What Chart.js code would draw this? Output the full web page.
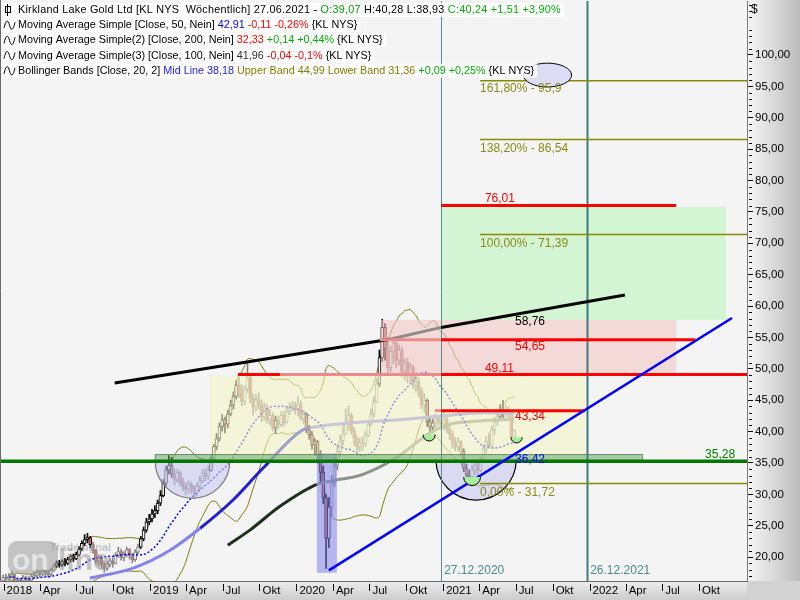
<!DOCTYPE html>
<html>
<head>
<meta charset="utf-8">
<title>Kirkland Lake Gold - Wöchentlich</title>
<script src="https://cdn.jsdelivr.net/npm/chart.js@4.4.1/dist/chart.umd.min.js"></script>
<style>
  html, body { margin: 0; padding: 0; background: #f4f4f4; }
  canvas { display: block; }
</style>
</head>
<body>
<canvas id="chartKL" width="800" height="600"></canvas>
<script>
// Wochenkerzen KL NYS, erste Kerze = Woche ab 31.12.2017
const firstWeek = '2017-12-31';

const weekOpen = [
  16.2, 16.8, 16.5, 16.9, 17.2, 16.4, 15.9, 16.2, 16.8, 16.5, 16.3, 16.9, 17.1,
  17.6, 17.3, 17.8, 17.5, 17.2, 17.9, 18.6, 19.1, 18.8, 19.3, 19.0, 19.6, 20.1,
  19.7, 20.4, 21.3, 22.2, 22.8, 23.1, 22.0, 21.0, 19.3, 19.8, 18.8, 18.2, 18.9,
  19.4, 19.0, 20.3, 20.9, 19.9, 20.4, 21.2, 20.2, 19.6, 20.8, 21.6, 22.9, 24.3,
  25.6, 26.1, 26.9, 27.4, 28.6, 29.8, 31.8, 33.9, 34.6, 33.2, 32.4, 33.5, 32.0,
  31.2, 30.8, 31.6, 31.0, 30.2, 31.3, 32.2, 33.4, 32.9, 33.8, 35.7, 37.6, 38.9,
  40.8, 41.9, 41.2, 42.8, 44.2, 45.6, 47.4, 46.1, 44.8, 46.8, 48.6, 45.3, 43.9,
  45.1, 44.3, 42.3, 43.8, 41.9, 42.6, 40.6, 41.8, 41.1, 42.6, 41.5, 43.2, 43.8,
  44.1, 43.5, 44.3, 42.1, 42.8, 40.3, 39.5, 37.9, 38.4, 36.2, 33.5, 29.5, 23.0,
  28.0, 31.8, 34.6, 36.8, 38.5, 39.6, 41.2, 42.6, 40.1, 38.9, 37.6, 38.2, 38.0,
  39.4, 41.2, 42.8, 44.7, 47.6, 51.8, 56.6, 53.3, 50.2, 52.8, 54.1, 51.4, 53.0,
  49.6, 51.0, 49.0, 50.2, 47.3, 47.9, 46.6, 44.2, 45.0, 41.6, 40.7, 41.4, 42.2,
  41.5, 41.2, 42.0, 40.4, 39.6, 38.2, 37.6, 38.4, 36.9, 34.2, 33.1, 32.8, 33.9,
  34.7, 33.8, 35.6, 37.2, 38.5, 37.8, 40.3, 41.6, 42.4, 43.4, 42.9, 43.6, 42.7,
  39.07
];
const weekHigh = [
  17.2, 17.3, 17.4, 17.8, 17.3, 16.6, 16.6, 17.1, 17.0, 16.9, 17.2, 17.6, 18.0,
  17.9, 18.1, 18.0, 17.8, 18.3, 18.9, 19.4, 19.5, 19.6, 19.8, 20.0, 20.4, 20.5,
  20.8, 21.7, 22.6, 23.6, 23.8, 23.3, 22.4, 21.2, 20.3, 20.0, 19.2, 19.3, 19.8,
  19.9, 20.7, 21.6, 21.3, 20.9, 21.6, 21.4, 20.6, 21.2, 22.1, 23.3, 24.8, 26.2,
  26.8, 27.6, 28.2, 29.1, 30.6, 32.4, 34.5, 36.2, 35.9, 34.1, 34.0, 33.8, 32.6,
  31.9, 32.2, 32.0, 31.4, 31.8, 32.9, 34.0, 34.1, 34.5, 36.2, 38.0, 39.7, 41.4,
  42.7, 42.3, 43.4, 45.0, 46.3, 48.1, 48.6, 47.5, 47.3, 51.2, 49.2, 46.0, 45.9,
  46.2, 45.0, 44.6, 44.3, 43.5, 43.0, 42.5, 42.4, 43.2, 43.3, 43.9, 44.6, 44.8,
  44.7, 45.6, 44.9, 43.4, 43.0, 41.0, 40.0, 38.9, 38.6, 37.0, 34.5, 30.0, 29.5,
  33.0, 35.8, 37.9, 39.4, 41.2, 43.6, 44.1, 43.0, 40.6, 39.3, 39.0, 39.2, 40.0,
  41.8, 43.6, 45.6, 48.4, 53.0, 57.9, 57.2, 54.4, 53.6, 55.0, 54.6, 53.8, 53.5,
  51.6, 51.7, 50.9, 50.6, 48.9, 48.6, 47.0, 46.1, 45.2, 42.3, 42.0, 42.8, 42.6,
  42.2, 43.3, 42.5, 41.0, 40.1, 39.0, 39.0, 38.6, 37.3, 34.8, 33.9, 34.6, 35.3,
  35.2, 36.0, 37.8, 39.2, 39.8, 40.9, 42.3, 43.2, 44.3, 45.0, 44.1, 44.0, 42.9,
  40.28
];
const weekLow = [
  16.0, 16.2, 16.3, 16.7, 16.0, 15.3, 15.4, 15.9, 16.1, 15.8, 16.0, 16.6, 16.9,
  16.8, 17.0, 17.0, 16.8, 17.0, 17.8, 18.3, 18.4, 18.5, 18.6, 18.8, 19.2, 19.3,
  19.6, 20.2, 21.0, 21.8, 22.3, 21.5, 20.6, 18.9, 18.6, 18.2, 17.6, 17.9, 18.5,
  18.4, 18.9, 20.0, 19.5, 19.4, 20.1, 19.7, 19.1, 19.3, 20.5, 21.4, 22.6, 24.0,
  25.2, 25.6, 26.3, 26.9, 28.2, 29.6, 31.4, 33.2, 32.7, 31.5, 31.9, 31.4, 30.6,
  29.9, 30.2, 30.1, 29.3, 29.7, 30.8, 31.8, 32.1, 32.4, 33.7, 35.3, 37.1, 38.5,
  40.1, 39.8, 40.6, 42.5, 43.6, 45.2, 45.4, 44.1, 44.3, 46.2, 44.6, 42.6, 43.2,
  43.5, 41.6, 41.8, 41.3, 41.1, 40.1, 39.7, 40.4, 40.8, 40.9, 41.3, 42.7, 43.3,
  42.8, 42.5, 41.8, 41.2, 39.8, 38.8, 37.2, 36.2, 35.0, 31.8, 28.5, 18.2, 21.5,
  26.5, 31.2, 33.9, 36.0, 37.8, 39.5, 40.2, 39.6, 37.8, 36.6, 36.8, 37.0, 37.6,
  39.2, 40.9, 42.3, 44.6, 47.2, 51.2, 51.4, 48.9, 49.5, 50.8, 50.1, 50.6, 48.8,
  48.2, 47.8, 47.9, 46.8, 46.3, 45.5, 43.6, 43.1, 40.8, 39.9, 39.8, 40.6, 40.9,
  40.4, 40.3, 39.8, 38.7, 37.3, 36.9, 36.9, 36.2, 33.6, 32.2, 32.0, 32.5, 33.1,
  33.0, 33.6, 35.4, 36.6, 37.4, 37.5, 39.6, 41.0, 41.8, 42.2, 42.3, 42.0, 38.6,
  38.93
];
const weekClose = [
  16.8, 16.5, 16.9, 17.2, 16.4, 15.9, 16.2, 16.8, 16.5, 16.3, 16.9, 17.1, 17.6,
  17.3, 17.8, 17.5, 17.2, 17.9, 18.6, 19.1, 18.8, 19.3, 19.0, 19.6, 20.1, 19.7,
  20.4, 21.3, 22.2, 22.8, 23.1, 22.0, 21.0, 19.3, 19.8, 18.8, 18.2, 18.9, 19.4,
  19.0, 20.3, 20.9, 19.9, 20.4, 21.2, 20.2, 19.6, 20.8, 21.6, 22.9, 24.3, 25.6,
  26.1, 26.9, 27.4, 28.6, 29.8, 31.8, 33.9, 34.6, 33.2, 32.4, 33.5, 32.0, 31.2,
  30.8, 31.6, 31.0, 30.2, 31.3, 32.2, 33.4, 32.9, 33.8, 35.7, 37.6, 38.9, 40.8,
  41.9, 41.2, 42.8, 44.2, 45.6, 47.4, 46.1, 44.8, 46.8, 48.6, 45.3, 43.9, 45.1,
  44.3, 42.3, 43.8, 41.9, 42.6, 40.6, 41.8, 41.1, 42.6, 41.5, 43.2, 43.8, 44.1,
  43.5, 44.3, 42.1, 42.8, 40.3, 39.5, 37.9, 38.4, 36.2, 33.5, 29.5, 23.0, 28.0,
  31.8, 34.6, 36.8, 38.5, 39.6, 41.2, 42.6, 40.1, 38.9, 37.6, 38.2, 38.0, 39.4,
  41.2, 42.8, 44.7, 47.6, 51.8, 56.6, 53.3, 50.2, 52.8, 54.1, 51.4, 53.0, 49.6,
  51.0, 49.0, 50.2, 47.3, 47.9, 46.6, 44.2, 45.0, 41.6, 40.7, 41.4, 42.2, 41.5,
  41.2, 42.0, 40.4, 39.6, 38.2, 37.6, 38.4, 36.9, 34.2, 33.1, 32.8, 33.9, 34.7,
  33.8, 35.6, 37.2, 38.5, 37.8, 40.3, 41.6, 42.4, 43.4, 42.9, 43.6, 42.7, 39.07,
  40.24
];

const ma50Dates = ['2018-08-04', '2018-11-20', '2019-02-20', '2019-05-06', '2019-07-27', '2019-10-10',
                   '2020-01-15', '2020-02-04', '2020-05-14', '2020-09-15', '2021-01-18', '2021-04-09', '2021-06-27'];
const ma50Vals  = [16.65, 18.25, 21.1, 24.6, 29.1, 34.2, 40.2, 40.6, 41.4, 41.9, 42.6, 43.0, 42.91];
const ma100Dates = ['2019-07-14', '2019-09-07', '2019-11-21', '2020-02-21', '2020-03-25', '2020-06-15',
                    '2020-09-08', '2020-11-29', '2021-01-18', '2021-04-03', '2021-06-27'];
const ma100Vals  = [21.9, 24.3, 28.1, 31.6, 32.1, 33.2, 35.9, 39.8, 41.2, 41.7, 41.96];

// Achsenbeschriftung
const xTickDates = ['2018-01-01', '2018-04-01', '2018-07-01', '2018-10-01', '2019-01-01', '2019-04-01',
                    '2019-07-01', '2019-10-01', '2020-01-01', '2020-04-01', '2020-07-01', '2020-10-01',
                    '2021-01-01', '2021-04-01', '2021-07-01', '2021-10-01', '2022-01-01', '2022-04-01',
                    '2022-07-01', '2022-10-01'];
const xTickLabels = ['2018', 'Apr', 'Jul', 'Okt', '2019', 'Apr', 'Jul', 'Okt', '2020', 'Apr', 'Jul', 'Okt',
                     '2021', 'Apr', 'Jul', 'Okt', '2022', 'Apr', 'Jul', 'Okt'];
const yTicks = [20, 25, 30, 35, 40, 45, 50, 55, 60, 65, 70, 75, 80, 85, 90, 95, 100];

// Zeichnungen
const levelPrice    = [76.01, 54.65, 49.11, 43.34];
const levelFrom     = ['2020-12-27', '2020-07-27', '2019-08-08', '2020-12-11'];
const levelTo       = ['2022-08-05', '2022-09-22', '2023-02-05', '2021-12-21'];
const levelFadeFrom = [null, '2020-07-27', '2019-11-21', '2020-12-11'];
const levelFadeTo   = [null, '2020-12-27', '2020-12-27', '2020-12-27'];

const fibPrice = [95.9, 86.54, 71.39, 31.72];
const fibFrom = '2021-04-03';
const supportPrice = 35.28;

const trendBlackDates = ['2018-10-05', '2020-08-21', '2020-12-27', '2022-03-30'];
const trendBlackVals  = [47.73, 54.7, 56.6, 61.75];
const trendBlueDates  = ['2020-03-22', '2022-12-22'];
const trendBlueVals   = [17.9, 58.1];

const zoneFrom = ['2019-05-30', '2020-07-30', '2020-12-27', '2020-02-21', '2019-01-13'];
const zoneTo   = ['2021-12-21', '2022-08-05', '2022-12-07', '2020-04-11', '2022-05-12'];
const zoneLow  = [35.28, 49.11, 57.8, 17.5, 35.28];
const zoneHigh = [48.9, 57.8, 75.8, 36.5, 36.42];

// Halbkreise unter einer Kurslinie: Mitte, Kurs, Radius in Tagen und in $
const arcDates  = ['2019-04-17', '2021-03-24'];
const arcPrice  = [35.28, 35.5];
const arcRDays  = [93, 100];
const arcRPrice = [5.9, 6.4];
const bowlDates  = ['2020-11-27', '2021-03-14', '2021-07-03'];
const bowlPrice  = [39.5, 32.75, 39.1];
const bowlRDays  = [15, 21, 14];
const bowlRPrice = [1.0, 1.35, 0.9];
const markDate = '2021-09-18', markPrice = 96.8, markRDays = 60, markRPrice = 1.9;

const dateLines = ['2020-12-27', '2021-12-26'];
const dateLineLabels = ['27.12.2020', '26.12.2021'];

const noteText  = ['161,80% - 95,9', '138,20% - 86,54', '100,00% - 71,39', '0,00% - 31,72',
                   '76,01', '58,76', '54,65', '49,11', '43,34', '36,42', '35,28'];
const noteDate  = ['2021-04-03', '2021-04-03', '2021-04-03', '2021-04-03',
                   '2021-04-15', '2021-06-29', '2021-06-29', '2021-04-15', '2021-06-29', '2021-06-29', '2022-10-16'];
const notePrice = [95.9, 86.54, 71.39, 31.72, 76.01, 57.8, 54.65, 49.11, 43.34, 36.42, 35.28];

const headerLines = [
  [['Kirkland Lake Gold Ltd [KL NYS  Wöchentlich] 27.06.2021 - ', '#000'], ['O:39,07', '#00a000'],
   [' H:40,28 L:38,93 ', '#000'], ['C:40,24 +1,51 +3,90%', '#00b000']],
  [['Moving Average Simple [Close, 50, Nein] ', '#000'], ['42,91', '#0000ff'], [' -0,11 -0,26%', '#ff0000'], [' {KL NYS}', '#000']],
  [['Moving Average Simple(2) [Close, 200, Nein] ', '#000'], ['32,33', '#ff0000'], [' +0,14 +0,44%', '#00b000'], [' {KL NYS}', '#000']],
  [['Moving Average Simple(3) [Close, 100, Nein] ', '#000'], ['41,96', '#303030'], [' -0,04 -0,1%', '#ff0000'], [' {KL NYS}', '#000']],
  [['Bollinger Bands [Close, 20, 2] ', '#000'], ['Mid Line 38,18', '#2020ff'],
   [' Upper Band 44,99 Lower Band 31,36', '#8c7a00'], [' +0,09 +0,25%', '#00b000'], [' {KL NYS}', '#000']]
];

// ---------------------------------------------------------------
const dayOf = s => Math.round((Date.parse(s) - Date.parse('2018-01-01')) / 864e5);
const weekX = i => dayOf(firstWeek) + 7 * i;
const X_MIN = -9, X_MAX = 1853.5;
const FONT = '"Liberation Sans", Arial, sans-serif';

// Bollinger Bänder (20, 2) aus den Schlusskursen
const bbMid = [], bbUp = [], bbLow = [];
weekClose.forEach((c, i) => {
  if (i < 2) { bbMid.push(null); bbUp.push(null); bbLow.push(null); return; }
  const w = weekClose.slice(Math.max(0, i - 19), i + 1);
  const m = w.reduce((a, b) => a + b, 0) / w.length;
  const sd = Math.sqrt(w.reduce((a, b) => a + (b - m) ** 2, 0) / w.length);
  bbMid.push(m); bbUp.push(m + 2 * sd); bbLow.push(m - 2 * sd);
});
const touches = i => i >= 19 && (weekHigh[i] >= bbUp[i] || weekLow[i] <= bbLow[i]);

const series = vals => vals.map((v, i) => ({ x: weekX(i), y: v }));
const pts = (dates, vals) => dates.map((d, i) => ({ x: dayOf(d), y: vals[i] }));

function lineDs(label, data, color, width, order, extra) {
  return Object.assign({ type: 'line', label, data, borderColor: color, borderWidth: width,
    pointRadius: 0, fill: false, tension: 0, order }, extra || {});
}

const datasets = [];
datasets.push(lineDs('bbUp', series(bbUp), '#7f7f00', 1, 30, { tension: 0.3 }));
datasets.push(lineDs('bbLow', series(bbLow), '#7f7f00', 1, 30, { tension: 0.3 }));
datasets.push({
  type: 'bar', label: 'wick', order: 29, grouped: false, barThickness: 1,
  data: weekClose.map((c, i) => ({ x: weekX(i), y: [weekLow[i], weekHigh[i]] })),
  backgroundColor: ctx => touches(ctx.dataIndex) ? '#000' : '#858585'
});
datasets.push({
  type: 'bar', label: 'body', order: 28, grouped: false, barThickness: 3, minBarLength: 1,
  borderWidth: 1, borderSkipped: false,
  data: weekClose.map((c, i) => ({ x: weekX(i), y: [Math.min(weekOpen[i], c), Math.max(weekOpen[i], c)] })),
  borderColor: ctx => touches(ctx.dataIndex) ? '#000' : '#858585',
  backgroundColor: ctx => weekClose[ctx.dataIndex] < weekOpen[ctx.dataIndex] ? '#ee6a6a' : '#f4f4f4'
});
const ma100Dark = dayOf('2020-02-21'), ma50DarkFrom = dayOf('2019-05-06'), ma50DarkTo = dayOf('2020-02-04');
datasets.push(lineDs('ma100', pts(ma100Dates, ma100Vals), '#8a9486', 3, 27, {
  cubicInterpolationMode: 'monotone',
  segment: { borderColor: c => c.p1.parsed.x <= ma100Dark ? '#1c301c' : '#8a9486' }
}));
datasets.push(lineDs('ma50', pts(ma50Dates, ma50Vals), '#8484ee', 3, 26, {
  cubicInterpolationMode: 'monotone',
  segment: { borderColor: c => (c.p0.parsed.x >= ma50DarkFrom && c.p1.parsed.x <= ma50DarkTo) ? '#2020d8' : '#8484ee' }
}));
datasets.push(lineDs('bbMid', series(bbMid), '#0000ff', 1.5, 25, { borderDash: [2, 2], tension: 0.3 }));

// ab hier über den Zonen
const blackFadeFrom = dayOf('2020-08-21'), blackFadeTo = dayOf('2020-12-27');
datasets.push(lineDs('trendBlack', pts(trendBlackDates, trendBlackVals), '#000', 3, 20, {
  segment: { borderColor: c => (c.p0.parsed.x >= blackFadeFrom && c.p1.parsed.x <= blackFadeTo) ? '#8c8c8c' : '#000' }
}));
datasets.push(lineDs('support', [{ x: X_MIN, y: supportPrice }, { x: X_MAX, y: supportPrice }], '#007800', 3.5, 19));
levelPrice.forEach((p, k) => {
  const xs = [levelFrom[k], levelFadeFrom[k], levelFadeTo[k], levelTo[k]].filter(Boolean).map(dayOf);
  const uniq = [...new Set(xs)].sort((a, b) => a - b);
  const f0 = levelFadeFrom[k] ? dayOf(levelFadeFrom[k]) : Infinity;
  const f1 = levelFadeTo[k] ? dayOf(levelFadeTo[k]) : -Infinity;
  datasets.push(lineDs('level' + k, uniq.map(x => ({ x, y: p })), '#ff0000', 3, 18, {
    segment: { borderColor: c => (c.p0.parsed.x >= f0 && c.p1.parsed.x <= f1) ? '#f08a8a' : '#ff0000' }
  }));
});
fibPrice.forEach((p, k) => {
  datasets.push(lineDs('fib' + k, [{ x: dayOf(fibFrom), y: p }, { x: X_MAX, y: p }], '#8a8a00', 1.5, 17));
});
datasets.push(lineDs('trendBlue', pts(trendBlueDates, trendBlueVals), '#0000ff', 2.5, 16));

// ---------------------------------------------------------------
function halfEllipse(ctx, sx, sy, d, p, rd, rp, full) {
  const cx = sx.getPixelForValue(dayOf(d)), cy = sy.getPixelForValue(p);
  const rx = Math.abs(sx.getPixelForValue(dayOf(d) + rd) - cx);
  const ry = Math.abs(sy.getPixelForValue(p - rp) - cy);
  ctx.beginPath();
  ctx.ellipse(cx, cy, rx, ry, 0, 0, full ? 2 * Math.PI : Math.PI);
}

const drawingPlugin = {
  id: 'drawings',
  beforeDraw(chart) {
    const { ctx, chartArea: a } = chart;
    const W = chart.width, H = chart.height;
    ctx.save();
    ctx.fillStyle = '#f4f4f4';
    ctx.fillRect(0, 0, a.right, a.bottom);
    let g = ctx.createLinearGradient(a.right, 0, W, 0);
    g.addColorStop(0, '#f6f6f6'); g.addColorStop(1, '#bcbcbc');
    ctx.fillStyle = g; ctx.fillRect(a.right, 0, W - a.right, a.bottom);
    g = ctx.createLinearGradient(0, a.bottom, 0, H);
    g.addColorStop(0, '#ececec'); g.addColorStop(1, '#cdcdcd');
    ctx.fillStyle = g; ctx.fillRect(0, a.bottom, a.right, H - a.bottom);
    ctx.fillStyle = '#d2d2d2'; ctx.fillRect(a.right, a.bottom, W - a.right, H - a.bottom);
    ctx.restore();
  },
  beforeDatasetsDraw(chart) {
    const { ctx, chartArea: a, scales: { x, y } } = chart;
    ctx.save();
    ctx.beginPath(); ctx.rect(a.left, a.top, a.right - a.left, a.bottom - a.top); ctx.clip();
    // grüne Zielzone liegt unter allem
    const k = 2;
    const x0 = x.getPixelForValue(dayOf(zoneFrom[k])), x1 = x.getPixelForValue(dayOf(zoneTo[k]));
    const y0 = y.getPixelForValue(zoneHigh[k]), y1 = y.getPixelForValue(zoneLow[k]);
    ctx.fillStyle = '#d3f5d3';
    ctx.fillRect(x0, y0, x1 - x0, y1 - y0);
    ctx.restore();
  },
  afterDatasetDraw(chart, args) {
    if (chart.data.datasets[args.index].label !== 'bbMid') return;
    const { ctx, chartArea: a, scales: { x, y } } = chart;
    ctx.save();
    ctx.beginPath(); ctx.rect(a.left, a.top, a.right - a.left, a.bottom - a.top); ctx.clip();
    const fills = ['rgba(244,244,196,0.6)', 'rgba(244,198,198,0.6)', null, 'rgba(130,130,235,0.55)', 'rgba(110,170,110,0.55)'];
    zoneFrom.forEach((d, k) => {
      if (!fills[k]) return;
      const x0 = x.getPixelForValue(dayOf(d)), x1 = x.getPixelForValue(dayOf(zoneTo[k]));
      const y0 = y.getPixelForValue(zoneHigh[k]), y1 = y.getPixelForValue(zoneLow[k]);
      ctx.fillStyle = fills[k];
      ctx.fillRect(x0, y0, x1 - x0, y1 - y0);
      if (k === 4) { ctx.strokeStyle = 'rgba(80,130,80,0.8)'; ctx.lineWidth = 1; ctx.strokeRect(x0 + 0.5, y0 + 0.5, x1 - x0, y1 - y0); }
    });
    const arcStroke = ['#7a7a7a', '#000'];
    arcDates.forEach((d, k) => {
      halfEllipse(ctx, x, y, d, arcPrice[k], arcRDays[k], arcRPrice[k]);
      ctx.fillStyle = 'rgba(200,200,240,0.6)'; ctx.fill();
      ctx.strokeStyle = arcStroke[k]; ctx.lineWidth = 1.2; ctx.stroke();
    });
    // senkrechte Datumslinien
    dateLines.forEach((d, k) => {
      const px = Math.round(x.getPixelForValue(dayOf(d)));
      ctx.strokeStyle = k === 0 ? '#5a8c8c' : '#3c7c7c';
      ctx.lineWidth = k === 0 ? 1 : 2;
      ctx.beginPath(); ctx.moveTo(px + 0.5, 0); ctx.lineTo(px + 0.5, a.bottom); ctx.stroke();
    });
    ctx.restore();
  },
  afterDatasetsDraw(chart) {
    const { ctx, chartArea: a, scales: { x, y } } = chart;
    ctx.save();
    // kleine grüne Schalen
    bowlDates.forEach((d, k) => {
      halfEllipse(ctx, x, y, d, bowlPrice[k], bowlRDays[k], bowlRPrice[k]);
      ctx.fillStyle = '#a4ee9c'; ctx.fill();
      ctx.strokeStyle = '#000'; ctx.lineWidth = 1; ctx.stroke();
    });
    halfEllipse(ctx, x, y, markDate, markPrice, markRDays, markRPrice, true);
    ctx.fillStyle = '#dcdcf4'; ctx.fill();
    ctx.strokeStyle = '#000'; ctx.lineWidth = 1; ctx.stroke();

    // Beschriftungen der Linien
    const noteColor = ['#8a8a14', '#8a8a14', '#8a8a14', '#8a8a14', '#ff0000', '#000', '#ff0000', '#ff0000', '#ff0000', '#0000ff', '#008000'];
    const noteDy = [8, 9, 9, 9, -7, 2, 7, -6, 6, 6, -7];
    ctx.font = '12px ' + FONT;
    ctx.textBaseline = 'middle'; ctx.textAlign = 'left';
    noteText.forEach((t, k) => {
      ctx.fillStyle = noteColor[k];
      ctx.fillText(t, x.getPixelForValue(dayOf(noteDate[k])), y.getPixelForValue(notePrice[k]) + noteDy[k]);
    });
    ctx.fillStyle = '#4c8c8c';
    dateLines.forEach((d, k) => {
      ctx.fillText(dateLineLabels[k], x.getPixelForValue(dayOf(d)) + 3, a.bottom - 10);
    });

    // Kopfzeilen
    ctx.font = '10.8px ' + FONT;
    headerLines.forEach((runs, r) => {
      ctx.letterSpacing = r === 0 ? '0.25px' : '0px';
      const cy = 10 + r * 15.2;
      const wTot = runs.reduce((s, [t]) => s + ctx.measureText(t).width, 0);
      ctx.fillStyle = 'rgba(255,255,255,0.85)';
      ctx.fillRect(0, cy - 7, 18 + wTot + 3, 14);
      ctx.strokeStyle = '#000'; ctx.lineWidth = 1;
      ctx.beginPath();
      if (r === 0) {
        ctx.moveTo(7.5, cy - 6); ctx.lineTo(7.5, cy + 6);
        ctx.strokeRect(5.5, cy - 3.5, 5, 6);
      } else {
        ctx.moveTo(4, cy + 3);
        ctx.bezierCurveTo(6, cy - 6, 8, cy - 6, 9.5, cy);
        ctx.bezierCurveTo(11, cy + 6, 13, cy + 6, 15, cy - 3);
      }
      ctx.stroke();
      let px = 18;
      runs.forEach(([t, col]) => {
        ctx.fillStyle = col; ctx.fillText(t, px, cy);
        px += ctx.measureText(t).width;
      });
    });
    ctx.letterSpacing = '0px';

    // Wasserzeichen
    ctx.globalAlpha = 0.55;
    ctx.fillStyle = '#9a9a9a';
    ctx.beginPath(); ctx.roundRect(8, 541, 50, 33, 9); ctx.fill();
    ctx.font = 'bold 30px ' + FONT;
    ctx.textBaseline = 'alphabetic';
    ctx.fillStyle = '#ffffff'; ctx.fillText('on', 12, 570);
    ctx.fillStyle = '#9a9a9a'; ctx.fillText('line', 58, 570);
    ctx.font = 'bold 11px ' + FONT;
    ctx.fillText('Tradesignal', 50, 551);
    ctx.globalAlpha = 1;

    // Rahmen, Nebenmarken der Kursachse, Zeitachsenmarken
    ctx.strokeStyle = '#6a6a6a'; ctx.lineWidth = 1;
    ctx.beginPath();
    ctx.moveTo(0.5, 0); ctx.lineTo(0.5, a.bottom + 0.5); ctx.lineTo(a.right, a.bottom + 0.5);
    ctx.stroke();
    ctx.strokeStyle = '#000';
    ctx.beginPath();
    for (let p = Math.ceil(y.min); p <= y.max; p++) {
      if (p % 5 === 0) continue;
      const py = Math.round(y.getPixelForValue(p)) + 0.5;
      ctx.moveTo(a.right + 2, py); ctx.lineTo(a.right + 5, py);
    }
    xTickDates.forEach(d => {
      const px = Math.round(x.getPixelForValue(dayOf(d))) + 0.5;
      ctx.moveTo(px, a.bottom + 3); ctx.lineTo(px, a.bottom + 10);
    });
    ctx.stroke();
    ctx.font = '12px ' + FONT; ctx.fillStyle = '#000'; ctx.textBaseline = 'middle';
    ctx.fillText('$', a.right + 4, 10);
    ctx.restore();
  }
};

new Chart(document.getElementById('chartKL'), {
  type: 'bar',
  data: { datasets },
  options: {
    responsive: false,
    animation: false,
    events: [],
    layout: { padding: { top: 1 } },
    plugins: { legend: { display: false }, tooltip: { enabled: false } },
    scales: {
      x: {
        type: 'linear', position: 'bottom', min: X_MIN, max: X_MAX, offset: false,
        afterBuildTicks: s => { s.ticks = xTickDates.map(d => ({ value: dayOf(d) })); },
        afterFit: s => { s.height = 19; s.paddingLeft = 0; s.paddingRight = 0; },
        grid: { display: false, drawTicks: false }, border: { display: false },
        ticks: { autoSkip: false, maxRotation: 0, align: 'start', labelOffset: 3, padding: 3,
                 color: '#000', font: { family: FONT, size: 11.5 },
                 callback: (v, i) => xTickLabels[i] }
      },
      y: {
        type: 'linear', position: 'right', min: 16.2, max: 108.6,
        afterBuildTicks: s => { s.ticks = yTicks.map(v => ({ value: v })); },
        afterFit: s => { s.width = 53; s.paddingTop = 0; s.paddingBottom = 0; },
        grid: { drawOnChartArea: false, drawTicks: true, tickLength: 6, tickColor: '#000' },
        border: { display: true, color: '#7a7a7a' },
        ticks: { padding: 2, color: '#000', font: { family: FONT, size: 11.5 },
                 callback: v => v.toFixed(2).replace('.', ',') }
      }
    }
  },
  plugins: [drawingPlugin]
});
</script>
</body>
</html>
